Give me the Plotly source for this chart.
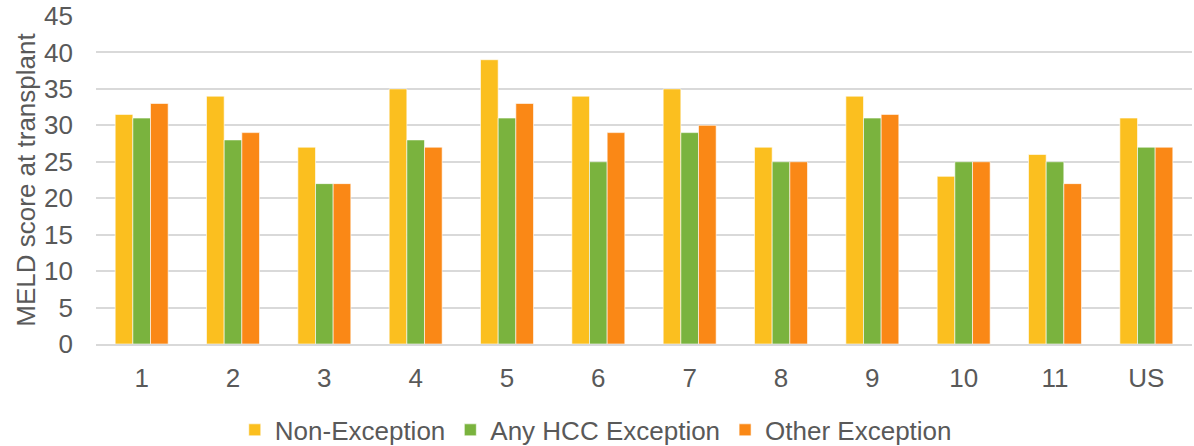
import plotly.graph_objects as go

categories = ["1", "2", "3", "4", "5", "6", "7", "8", "9", "10", "11", "US"]
non_exception = [31.5, 34, 27, 35, 39, 34, 35, 27, 34, 23, 26, 31]
any_hcc_exception = [31, 28, 22, 28, 31, 25, 29, 25, 31, 25, 25, 27]
other_exception = [33, 29, 22, 27, 33, 29, 30, 25, 31.5, 25, 22, 27]

series = [
    ("Non-Exception", non_exception, "#FBBF1F"),
    ("Any HCC Exception", any_hcc_exception, "#7AB33E"),
    ("Other Exception", other_exception, "#FA8816"),
]

fig = go.Figure()
for name, vals, color in series:
    fig.add_trace(go.Bar(
        x=categories, y=vals, name=name,
        marker=dict(color=color, line=dict(color="rgba(255,255,255,0.6)", width=1)),
    ))

font_family = "Liberation Sans, Arial, sans-serif"
fs = 26
fig.update_layout(
    width=1194, height=446,
    margin=dict(l=96, r=2, t=16, b=102, autoexpand=False),
    paper_bgcolor="white", plot_bgcolor="white",
    barmode="group", bargap=0.42, bargroupgap=0,
    font=dict(family=font_family, size=fs, color="#595959"),
    showlegend=True,
    legend=dict(orientation="h", x=0.456, xanchor="center", y=-0.262, yanchor="middle",
                font=dict(size=fs, color="#595959"), itemwidth=30, tracegroupgap=0,
                bgcolor="rgba(0,0,0,0)"),
    xaxis=dict(showgrid=False, showline=True, linecolor="#D9D9D9", linewidth=1.5,
               ticks="", ticklabelstandoff=10, automargin=False,
               tickfont=dict(size=fs, color="#595959")),
    yaxis=dict(range=[0, 45], dtick=5, tick0=0, showgrid=True, gridcolor="#D9D9D9",
               gridwidth=1.5, zeroline=False, showline=False, ticks="",
               ticklabelstandoff=22, automargin=False,
               tickfont=dict(size=fs, color="#595959"),
               title=dict(text="MELD score at transplant", font=dict(size=fs, color="#595959"),
                          standoff=0)),
)

fig.write_html("out.html", config={"displayModeBar": False},
               post_script="document.body.style.margin='0';document.body.style.overflow='hidden';")
